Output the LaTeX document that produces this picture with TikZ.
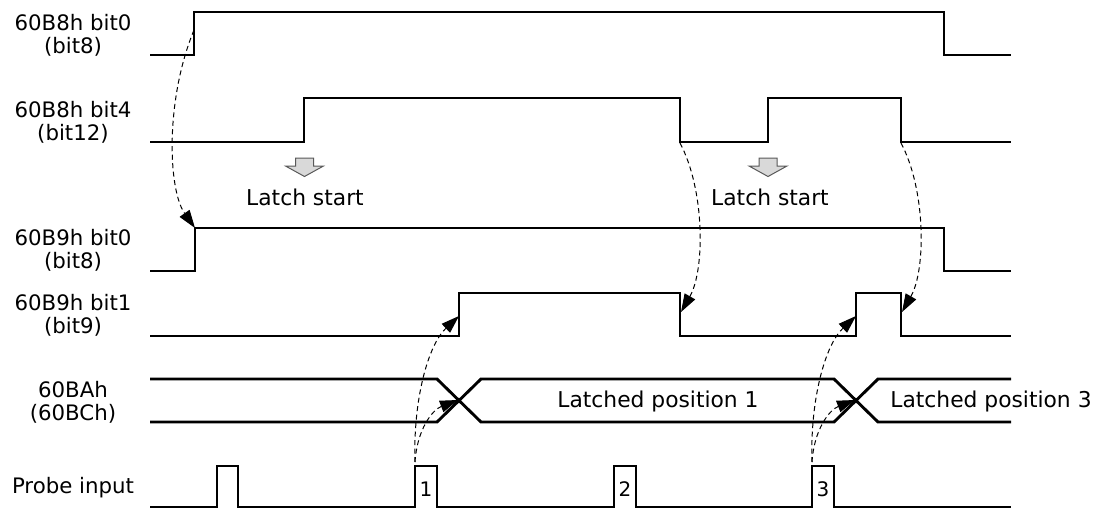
\documentclass[tikz,border=0pt]{standalone}
\usepackage{fontspec}
\setmainfont{DejaVu Sans}
\usetikzlibrary{arrows.meta}
\begin{document}
\begin{tikzpicture}[x=1pt,y=-1pt,
  sig/.style={line width=2.9pt, line join=miter},
  link/.style={line width=1pt, dash pattern=on 5pt off 3.5pt, -{Triangle[length=18pt,width=12pt]}},
  lbl/.style={font=\fontsize{21.3}{23}\selectfont, align=center, inner sep=0pt},
  txt/.style={font=\fontsize{21.8}{24}\selectfont, inner sep=0pt},
  num/.style={font=\fontsize{20}{22}\selectfont, inner sep=0pt},
  blk/.style={fill=black!15, draw=black!65, line width=1pt, line join=miter}]
\path[use as bounding box] (0,0) rectangle (1105,509);

% signal labels
\node[lbl] (la) at (73,35.5) {60B8h bit0\\(bit8)};
\node[lbl] (lb) at (73,122) {60B8h bit4\\(bit12)};
\node[lbl] (lc) at (73,250) {60B9h bit0\\(bit8)};
\node[lbl] (ld) at (73,315) {60B9h bit1\\(bit9)};
\node[lbl] (le) at (73,402) {60BAh\\(60BCh)};
\node[lbl] (lf) at (73,488) {Probe input};

% waveforms
\draw[sig] (150,55) -- (194,55) -- (194,12) -- (944,12) -- (944,55) -- (1011,55);
\draw[sig] (150,142) -- (304,142) -- (304,98) -- (680,98) -- (680,142) -- (768,142) -- (768,98) -- (901,98) -- (901,142) -- (1011,142);
\draw[sig] (150,271) -- (195,271) -- (195,228) -- (944,228) -- (944,271) -- (1011,271);
\draw[sig] (150,336) -- (459,336) -- (459,293) -- (680,293) -- (680,336) -- (856,336) -- (856,293) -- (901,293) -- (901,336) -- (1011,336);
\draw[sig] (150,379) -- (437,379) -- (481,422) -- (834,422) -- (878,379) -- (1011,379);
\draw[sig] (150,422) -- (437,422) -- (481,379) -- (834,379) -- (878,422) -- (1011,422);
\draw[sig] (150,507) -- (217,507) -- (217,466) -- (238,466) -- (238,507) -- (415,507) -- (415,466) -- (437,466) -- (437,507)
  -- (614,507) -- (614,466) -- (636,466) -- (636,507) -- (812,507) -- (812,466) -- (834,466) -- (834,507) -- (1011,507);

% pulse numbers
\node[num] (n1) at (426,489) {1};
\node[num] (n2) at (625,489) {2};
\node[num] (n3) at (823,489) {3};

% latch start markers
\draw[blk] (295.5,158) -- (313.5,158) -- (313.5,166) -- (323.5,166) -- (304.5,176.5) -- (285.5,166) -- (295.5,166) -- cycle;
\draw[blk] (759,158) -- (777,158) -- (777,166) -- (787,166) -- (768,176.5) -- (749,166) -- (759,166) -- cycle;
\node[txt] (ls1) at (305,197) {Latch start};
\node[txt] (ls2) at (770,197) {Latch start};

% bus values
\node[txt] (lp1) at (658,401) {Latched position 1};
\node[txt] (lp3) at (991,401) {Latched position 3};

% connector points
\coordinate (a0) at (194,30);
\coordinate (c0) at (195,228);
\coordinate (b1) at (680,143);
\coordinate (d1) at (681,312);
\coordinate (b2) at (901,143);
\coordinate (d2) at (902,312);
\coordinate (p1) at (415,462);
\coordinate (r1) at (459,316);
\coordinate (x1) at (458,400);
\coordinate (p3) at (812,462);
\coordinate (r3) at (856,316);
\coordinate (x3) at (855,400);

% dashed cause arrows
\draw[link] (a0) .. controls (165,100) and (168,190) .. (c0);
\draw[link] (b1) .. controls (705,190) and (705,270) .. (d1);
\draw[link] (b2) .. controls (926,190) and (926,270) .. (d2);
\draw[link] (p1) .. controls (413,400) and (428,345) .. (r1);
\draw[link] (p1) .. controls (417,430) and (432,410) .. (x1);
\draw[link] (p3) .. controls (810,400) and (825,345) .. (r3);
\draw[link] (p3) .. controls (814,430) and (829,410) .. (x3);
\end{tikzpicture}
\end{document}
